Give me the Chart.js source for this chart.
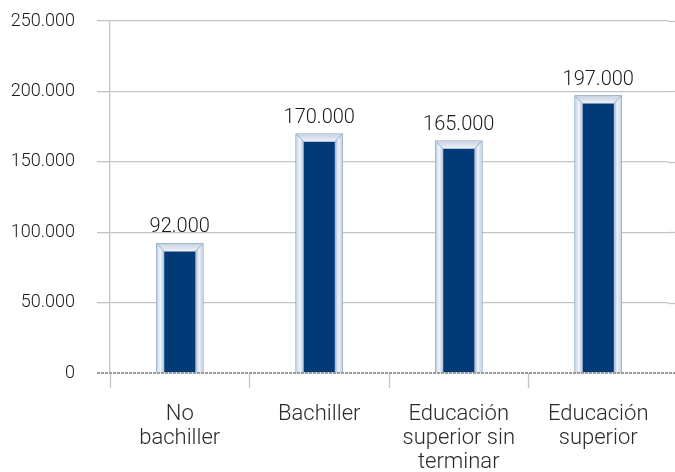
<!DOCTYPE html>
<html><head><meta charset="utf-8">
<script src="https://cdn.jsdelivr.net/npm/chart.js@4/dist/chart.umd.min.js"></script>
<style>html,body{margin:0;padding:0;background:#fff}canvas{display:block}</style>
</head><body>
<canvas id="c" width="675" height="472"></canvas>
<script>
const categories = [["No","bachiller"],["Bachiller"],["Educación","superior sin","terminar"],["Educación","superior"]];
const values = [92000, 170000, 165000, 197000];
const yMin = 0, yMax = 250000, yStep = 50000;

function fmt(v){ return String(v).replace(/\B(?=(\d{3})+(?!\d))/g,'.'); }

const bevelPlugin = {
  id:'bevel',
  afterDatasetsDraw(chart){
    const ctx = chart.ctx;
    const meta = chart.getDatasetMeta(0);
    const b = 8;
    meta.data.forEach((el,i)=>{
      const {x,y,base,width} = el.getProps(['x','y','base','width'],true);
      const L = x - width/2, R = x + width/2;
      ctx.save();
      let g = ctx.createLinearGradient(L,0,L+b,0);
      g.addColorStop(0,'#bccde2'); g.addColorStop(0.5,'#f2f6fa'); g.addColorStop(1,'#aec2db');
      ctx.fillStyle = g;
      ctx.beginPath(); ctx.moveTo(L,y); ctx.lineTo(L+b,y+b); ctx.lineTo(L+b,base); ctx.lineTo(L,base); ctx.closePath(); ctx.fill();
      g = ctx.createLinearGradient(R-b,0,R,0);
      g.addColorStop(0,'#9ab2cf'); g.addColorStop(0.45,'#eef3f8'); g.addColorStop(1,'#bfcfe3');
      ctx.fillStyle = g;
      ctx.beginPath(); ctx.moveTo(R,y); ctx.lineTo(R-b,y+b); ctx.lineTo(R-b,base); ctx.lineTo(R,base); ctx.closePath(); ctx.fill();
      g = ctx.createLinearGradient(0,y,0,y+b);
      g.addColorStop(0,'#c5d2e2'); g.addColorStop(1,'#eef2f7');
      ctx.fillStyle = g;
      ctx.beginPath(); ctx.moveTo(L,y); ctx.lineTo(R,y); ctx.lineTo(R-b,y+b); ctx.lineTo(L+b,y+b); ctx.closePath(); ctx.fill();
      ctx.strokeStyle='rgba(150,170,195,0.6)'; ctx.lineWidth=0.7;
      ctx.beginPath(); ctx.moveTo(L,y); ctx.lineTo(L+b,y+b); ctx.moveTo(R,y); ctx.lineTo(R-b,y+b); ctx.stroke();
      ctx.fillStyle='#1a1a1a'; ctx.font='300 20px Roboto'; ctx.textAlign='center'; ctx.textBaseline='alphabetic';
      ctx.fillText(fmt(values[i]), x, y-11);
      ctx.restore();
    });
  },
  afterDraw(chart){
    const ctx = chart.ctx, ys = chart.scales.y, ca = chart.chartArea;
    ctx.save();
    ctx.strokeStyle='#c4c4c4'; ctx.lineWidth=1.3;
    ys.ticks.forEach(t=>{
      if(t.value===0) return;
      const py = Math.round(ys.getPixelForValue(t.value))+0.5;
      ctx.beginPath(); ctx.moveTo(ca.right,py); ctx.lineTo(chart.width,py); ctx.stroke();
    });
    const y0 = ys.getPixelForValue(0);
    ctx.strokeStyle='#9a9a9a'; ctx.lineWidth=2; ctx.setLineDash([3,1]);
    ctx.beginPath(); ctx.moveTo(ca.left-13,y0); ctx.lineTo(chart.width,y0); ctx.stroke();
    ctx.restore();
  }
};

new Chart(document.getElementById('c'),{
  type:'bar',
  data:{labels:categories,datasets:[{data:values,backgroundColor:'#023a78',borderWidth:0,barPercentage:0.337,categoryPercentage:1}]},
  options:{
    responsive:false,animation:false,
    layout:{padding:{top:21,right:7,left:0,bottom:0}},
    plugins:{legend:{display:false},tooltip:{enabled:false}},
    scales:{
      x:{
        grid:{drawOnChartArea:false,drawTicks:true,tickLength:15,offset:true,tickColor:c=>c.type==='tick'?'#c4c4c4':'rgba(0,0,0,0)',tickWidth:1.3},
        border:{display:false},
        ticks:{color:'#2a2a2a',font:{family:'Roboto',size:22,weight:300,lineHeight:1.08},padding:15,maxRotation:0,autoSkip:false},
        afterFit(s){s.height=99;}
      },
      y:{
        min:yMin,max:yMax,
        ticks:{stepSize:yStep,color:'#1a1a1a',font:{family:'Roboto',size:18,weight:300},padding:22,callback:v=>fmt(v)},
        grid:{color:c=>c.tick&&c.tick.value===0?'rgba(0,0,0,0)':'#c4c4c4',lineWidth:1.3,tickLength:13},
        border:{display:true,color:'#c4c4c4',width:1.3},
        afterFit(s){s.width=110; s.paddingTop=0; s.paddingBottom=0;}
      }
    }
  },
  plugins:[bevelPlugin]
});
</script>
</body></html>
